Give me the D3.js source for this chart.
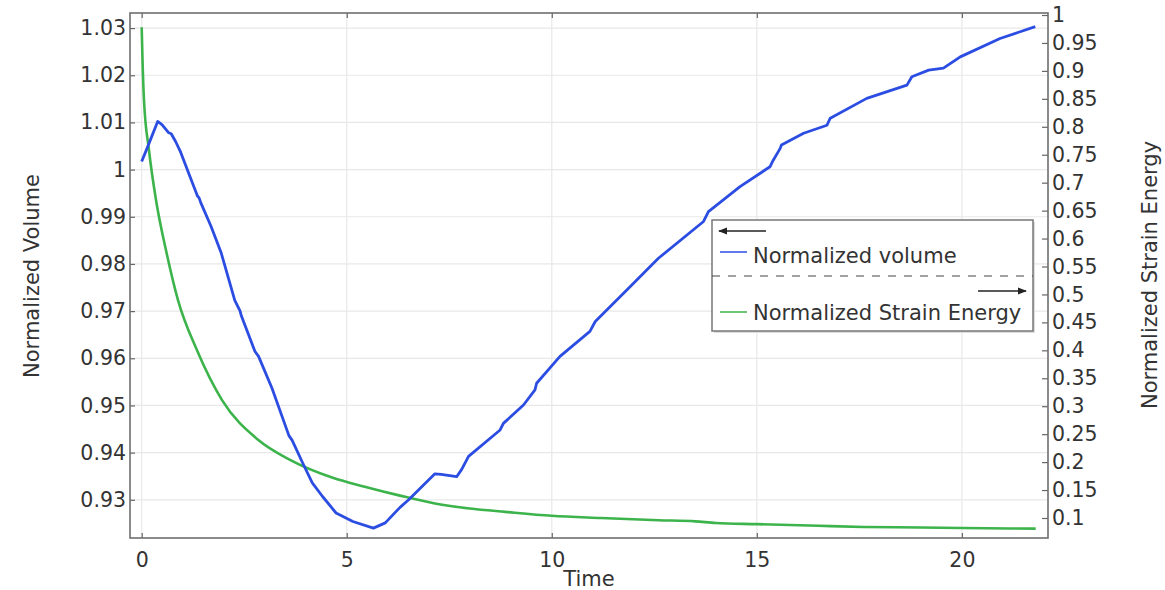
<!DOCTYPE html>
<html>
<head>
<meta charset="utf-8">
<script src="https://cdn.jsdelivr.net/npm/d3@7"></script>
<style>
html,body{margin:0;padding:0;background:#fff;}
svg{display:block;}
text{font-family:"DejaVu Sans",sans-serif;fill:#333;}
</style>
</head>
<body>
<svg id="chart" width="1165" height="590"></svg>
<script>
// ---- data ----
const volumeTime = [0.00,0.13,0.39,0.50,0.66,0.72,0.83,0.95,1.20,1.36,1.40,1.44,1.69,1.94,2.27,2.40,2.43,2.76,2.85,3.18,3.59,3.67,3.92,4.16,4.41,4.74,5.15,5.65,5.94,6.30,6.51,7.15,7.30,7.68,7.80,7.97,8.74,8.82,9.31,9.59,9.63,10.20,10.93,11.06,11.83,12.60,13.70,13.82,14.59,15.32,15.40,15.57,15.60,16.14,16.71,16.79,17.68,18.66,18.78,19.19,19.55,19.96,20.93,21.79];
const volumeValues = [1.0017,1.0045,1.0102,1.0095,1.0078,1.0076,1.0059,1.0037,0.9980,0.9944,0.9940,0.9930,0.9880,0.9823,0.9723,0.9700,0.9690,0.9615,0.9604,0.9536,0.9436,0.9426,0.9379,0.9336,0.9307,0.9272,0.9254,0.9240,0.9251,0.9284,0.9300,0.9355,0.9354,0.9349,0.9364,0.9392,0.9448,0.9462,0.9501,0.9533,0.9547,0.9604,0.9657,0.9678,0.9745,0.9812,0.9890,0.9911,0.9964,1.0006,1.0020,1.0045,1.0052,1.0077,1.0094,1.0109,1.0151,1.0179,1.0197,1.0211,1.0215,1.0239,1.0278,1.0303];

const energyTime = [0.00,0.02,0.056,0.178,0.349,0.593,0.885,1.349,1.959,2.837,3.617,4.66,5.44,6.30,7.15,8.00,8.87,10.00,11.20,12.60,13.50,14.00,15.00,16.50,17.60,19.00,20.00,21.80];
const energyValues = [0.978,0.920,0.848,0.758,0.669,0.579,0.490,0.400,0.311,0.240,0.204,0.172,0.156,0.140,0.126,0.117,0.111,0.104,0.100,0.096,0.094,0.091,0.089,0.086,0.084,0.083,0.082,0.081];

const xTicks = [0,5,10,15,20];
const leftTicks = [0.93,0.94,0.95,0.96,0.97,0.98,0.99,1.00,1.01,1.02,1.03];
const leftTickLabels = ["0.93","0.94","0.95","0.96","0.97","0.98","0.99","1","1.01","1.02","1.03"];
const rightTicks = [0.1,0.15,0.2,0.25,0.3,0.35,0.4,0.45,0.5,0.55,0.6,0.65,0.7,0.75,0.8,0.85,0.9,0.95,1.0];
const rightTickLabels = ["0.1","0.15","0.2","0.25","0.3","0.35","0.4","0.45","0.5","0.55","0.6","0.65","0.7","0.75","0.8","0.85","0.9","0.95","1"];

const seriesNames = ["Normalized volume","Normalized Strain Energy"];
const xTitle = "Time", leftTitle = "Normalized Volume", rightTitle = "Normalized Strain Energy";

// ---- layout ----
const L = 130, R = 1048, T = 13, B = 538;
const blue = "#2c4de2", green = "#3cb44b";
const fsTick = 20.5, fsTitle = 21, fsLeg = 21;

const svg = d3.select("#chart");
const x = d3.scaleLinear().domain([-0.285, 22.1]).range([L, R]);
const yL = d3.scaleLinear().domain([0.9219, 1.0332]).range([B, T]);
const yR = d3.scaleLinear().domain([0.0642, 1.0036]).range([B, T]);

// grid
const grid = svg.append("g");
grid.selectAll(".gx").data(xTicks).join("line")
  .attr("x1", d => x(d)).attr("x2", d => x(d)).attr("y1", T).attr("y2", B)
  .attr("stroke", "#e8e8e8").attr("stroke-width", 1.2);
grid.selectAll(".gy").data(leftTicks).join("line")
  .attr("x1", L).attr("x2", R).attr("y1", d => yL(d)).attr("y2", d => yL(d))
  .attr("stroke", "#e8e8e8").attr("stroke-width", 1.2);

// series
const volData = volumeTime.map((t, i) => [t, volumeValues[i]]);
const enData = energyTime.map((t, i) => [t, energyValues[i]]);

svg.append("path").datum(enData)
  .attr("fill", "none").attr("stroke", green).attr("stroke-width", 2.6)
  .attr("d", d3.line().x(d => x(d[0])).y(d => yR(d[1])).curve(d3.curveMonotoneX));
svg.append("path").datum(volData)
  .attr("fill", "none").attr("stroke", blue).attr("stroke-width", 2.8).attr("stroke-linejoin", "round")
  .attr("d", d3.line().x(d => x(d[0])).y(d => yL(d[1])));

// axes (ticks inside)
const fmtL = d => leftTickLabels[leftTicks.indexOf(d)];
const fmtR = d => rightTickLabels[rightTicks.indexOf(d)];
function styleAxis(g) {
  g.select(".domain").remove();
  g.selectAll(".tick line").attr("stroke", "#666").attr("stroke-width", 1.2);
  g.selectAll(".tick text").style("font-size", fsTick + "px").attr("fill", "#333");
}
svg.append("g").attr("transform", `translate(0,${B})`)
  .call(d3.axisBottom(x).tickValues(xTicks).tickSize(-5).tickPadding(14).tickFormat(d3.format("d")))
  .call(styleAxis);
svg.append("g").attr("transform", `translate(0,${T})`)
  .call(d3.axisTop(x).tickValues(xTicks).tickSize(-5).tickFormat(""))
  .call(styleAxis);
svg.append("g").attr("transform", `translate(${L},0)`)
  .call(d3.axisLeft(yL).tickValues(leftTicks).tickSize(-5).tickPadding(4).tickFormat(fmtL))
  .call(styleAxis);
svg.append("g").attr("transform", `translate(${R},0)`)
  .call(d3.axisRight(yR).tickValues(rightTicks).tickSize(-6).tickPadding(4).tickFormat(fmtR))
  .call(styleAxis);

// frame
svg.append("rect").attr("x", L).attr("y", T).attr("width", R - L).attr("height", B - T)
  .attr("fill", "none").attr("stroke", "#6e6e6e").attr("stroke-width", 1.6);

// titles
svg.append("text").attr("x", 589).attr("y", 586).attr("text-anchor", "middle")
  .style("font-size", fsTitle + "px").text(xTitle);
svg.append("text").attr("transform", "translate(39,276) rotate(-90)").attr("text-anchor", "middle")
  .style("font-size", fsTitle + "px").text(leftTitle);
svg.append("text").attr("transform", "translate(1157,275) rotate(-90)").attr("text-anchor", "middle")
  .style("font-size", fsTitle + "px").text(rightTitle);

// legend
const lg = svg.append("g");
const lx = 712, ly = 220, lw = 321, lh = 111;
lg.append("rect").attr("x", lx + 2).attr("y", ly + 2).attr("width", lw).attr("height", lh)
  .attr("fill", "#ddd");
lg.append("rect").attr("x", lx).attr("y", ly).attr("width", lw).attr("height", lh)
  .attr("fill", "#fff").attr("stroke", "#777").attr("stroke-width", 1.5);
svg.append("defs").html(
  '<marker id="ah" viewBox="0 0 10 10" refX="9" refY="5" markerWidth="7" markerHeight="7" orient="auto-start-reverse">' +
  '<path d="M0,1 L10,5 L0,9 z" fill="#222"/></marker>');
lg.append("line").attr("x1", 766).attr("x2", 719).attr("y1", 231).attr("y2", 231)
  .attr("stroke", "#222").attr("stroke-width", 1.3).attr("marker-end", "url(#ah)");
lg.append("line").attr("x1", 720).attr("x2", 747).attr("y1", 252).attr("y2", 252)
  .attr("stroke", blue).attr("stroke-width", 1.5);
lg.append("text").attr("x", 753).attr("y", 263).style("font-size", fsLeg + "px").attr("fill", "#222").text(seriesNames[0]);
lg.append("line").attr("x1", lx).attr("x2", lx + lw).attr("y1", 276).attr("y2", 276)
  .attr("stroke", "#444").attr("stroke-width", 1.2).attr("stroke-dasharray", "8,8");
lg.append("line").attr("x1", 978).attr("x2", 1026).attr("y1", 291).attr("y2", 291)
  .attr("stroke", "#222").attr("stroke-width", 1.3).attr("marker-end", "url(#ah)");
lg.append("line").attr("x1", 720).attr("x2", 747).attr("y1", 312).attr("y2", 312)
  .attr("stroke", green).attr("stroke-width", 1.5);
lg.append("text").attr("x", 753).attr("y", 320).style("font-size", fsLeg + "px").attr("fill", "#222").text(seriesNames[1]);
</script>
</body>
</html>
